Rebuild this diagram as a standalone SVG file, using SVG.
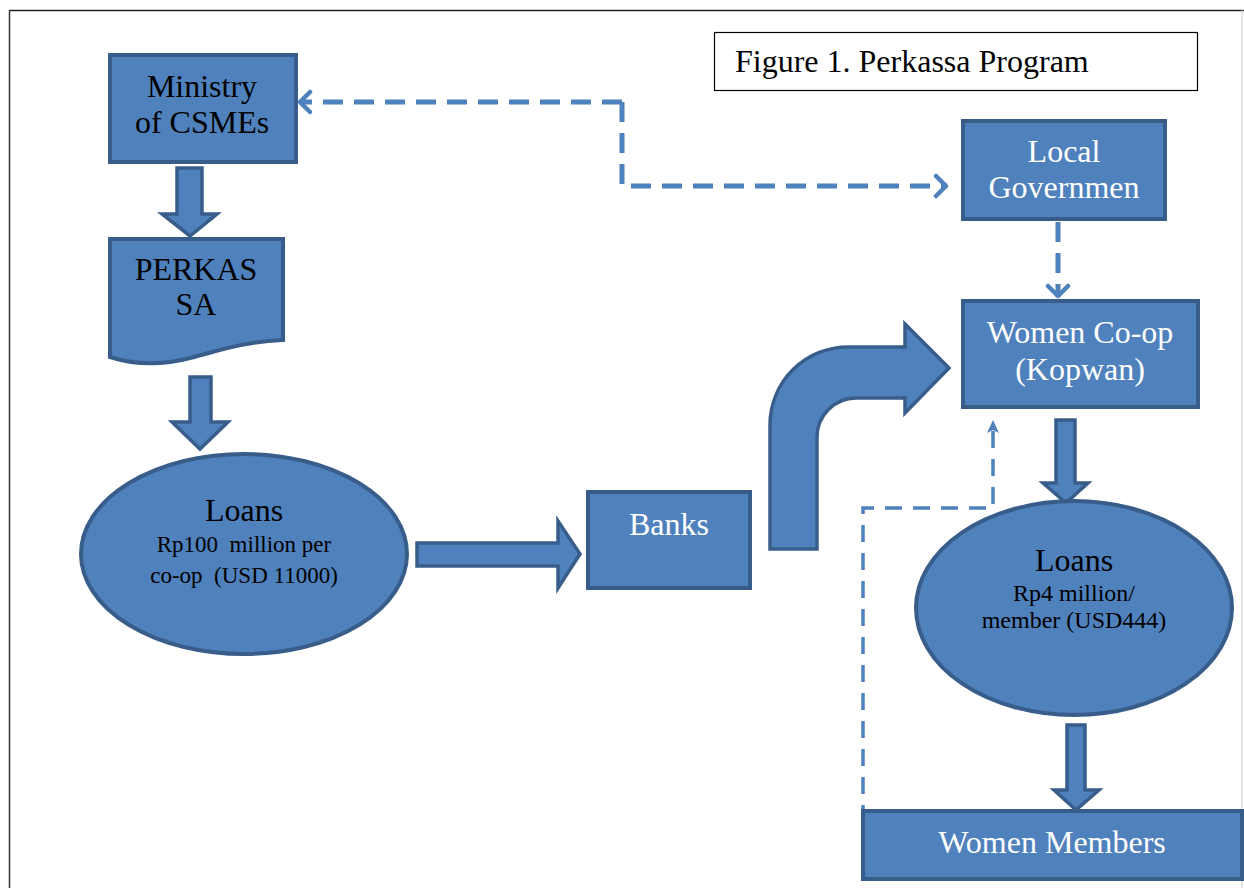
<svg xmlns="http://www.w3.org/2000/svg" width="1244" height="888" viewBox="0 0 1244 888">
<style>
.box{fill:#4F81BD;stroke:#385D8A;stroke-width:4}
.blk{fill:#4F81BD;stroke:#385D8A;stroke-width:3.5;stroke-linejoin:miter}
.t{font-family:"Liberation Serif","Times New Roman",serif;text-anchor:middle;fill:#000}
.w{fill:#fff}
.dash{fill:none;stroke:#4F81BD;stroke-width:5;stroke-dasharray:20 11}
.dash2{fill:none;stroke:#4F81BD;stroke-width:3.5;stroke-dasharray:17 11}
</style>
<defs>
<marker id="chev" markerUnits="userSpaceOnUse" viewBox="0 0 16 26" refX="14" refY="13" markerWidth="16" markerHeight="26" orient="auto">
<path d="M3,3 L13,13 L3,23" fill="none" stroke="#4F81BD" stroke-width="4.5" stroke-linecap="round" stroke-linejoin="round"/>
</marker>
<marker id="tri" markerUnits="userSpaceOnUse" viewBox="0 0 14 14" refX="13" refY="7" markerWidth="14" markerHeight="14" orient="auto">
<path d="M0,1 L13,7 L0,13 L3,7 Z" fill="#4F81BD"/>
</marker>
</defs>
<rect width="1244" height="888" fill="#fff"/>
<g id="frame">
<line x1="9" y1="10.5" x2="1244" y2="10.5" stroke="#222" stroke-width="1.5"/>
<line x1="9.5" y1="10" x2="9.5" y2="888" stroke="#333" stroke-width="1.5"/>
<line x1="1242" y1="10" x2="1242" y2="888" stroke="#ccc" stroke-width="1"/>
</g>
<g id="title">
<rect x="714.5" y="32.5" width="483" height="58" fill="#fff" stroke="#000" stroke-width="1.2"/>
<text x="735" y="72" class="t" style="text-anchor:start;font-size:32px">Figure 1. Perkassa Program</text>
</g>
<g id="connectors">
<path class="dash" d="M622,102 L622,186 L947,186" marker-end="url(#chev)"/>
<path class="dash" d="M622,102 L299,102" marker-end="url(#chev)"/>
<path class="dash" d="M1058,222 L1058,297" marker-end="url(#chev)"/>
<path class="dash2" d="M863,822 L863,508 L993,508 L993,420" marker-end="url(#tri)"/>
<polygon class="blk" points="177,168 202,168 202,214 217,214 190,236 162,214 177,214"/>
<polygon class="blk" points="190,377 211,377 211,422 228,422 200,449 172,422 190,422"/>
<polygon class="blk" points="417,543 558,543 558,521 580,554 558,588 558,566 417,566"/>
<polygon class="blk" points="1056,420 1075,420 1075,483 1088,483 1066,503 1043,483 1056,483"/>
<polygon class="blk" points="1067,725 1085,725 1085,790 1099,790 1076,810 1054,790 1067,790"/>
<path class="blk" d="M770,549 L770,425 A78,78 0 0 1 848,347 L905,347 L905,324 L949,368 L905,413 L905,398 L856,398 A39,39 0 0 0 817,437 L817,549 Z"/>
</g>
<g id="ministry">
<rect class="box" x="110" y="55" width="186" height="107"/>
<text class="t" x="202" y="97" style="font-size:32px">Ministry</text>
<text class="t" x="202" y="133" style="font-size:32px">of CSMEs</text>
</g>
<g id="perkassa">
<path class="box" d="M110,239 L283,239 L283,340 C240,342 215,352 190,358 C160,366 135,365 110,357 Z"/>
<text class="t" x="196" y="280" style="font-size:32px">PERKAS</text>
<text class="t" x="196" y="315" style="font-size:32px">SA</text>
</g>
<g id="loans1">
<ellipse class="box" cx="244" cy="554" rx="163" ry="100"/>
<text class="t" x="244" y="521" style="font-size:32px">Loans</text>
<text class="t" x="244" y="552" style="font-size:23px" xml:space="preserve">Rp100  million per</text>
<text class="t" x="244" y="583" style="font-size:23px" xml:space="preserve">co-op  (USD 11000)</text>
</g>
<g id="banks">
<rect class="box" x="588" y="492" width="162" height="96"/>
<text class="t w" x="669" y="535" style="font-size:32px">Banks</text>
</g>
<g id="localgov">
<rect class="box" x="963" y="121" width="202" height="98"/>
<text class="t w" x="1064" y="162" style="font-size:32px">Local</text>
<text class="t w" x="1064" y="198" style="font-size:32px">Governmen</text>
</g>
<g id="coop">
<rect class="box" x="963" y="301" width="235" height="106"/>
<text class="t w" x="1080" y="343" style="font-size:32px">Women Co-op</text>
<text class="t w" x="1080" y="380" style="font-size:32px">(Kopwan)</text>
</g>
<g id="loans2">
<ellipse class="box" cx="1074" cy="608" rx="158" ry="107"/>
<text class="t" x="1074" y="571" style="font-size:32px">Loans</text>
<text class="t" x="1074" y="601" style="font-size:24px">Rp4 million/</text>
<text class="t" x="1074" y="628" style="font-size:24px">member (USD444)</text>
</g>
<g id="members">
<rect class="box" x="863" y="811" width="379" height="68"/>
<text class="t w" x="1052" y="853" style="font-size:32px">Women Members</text>
</g>
</svg>
